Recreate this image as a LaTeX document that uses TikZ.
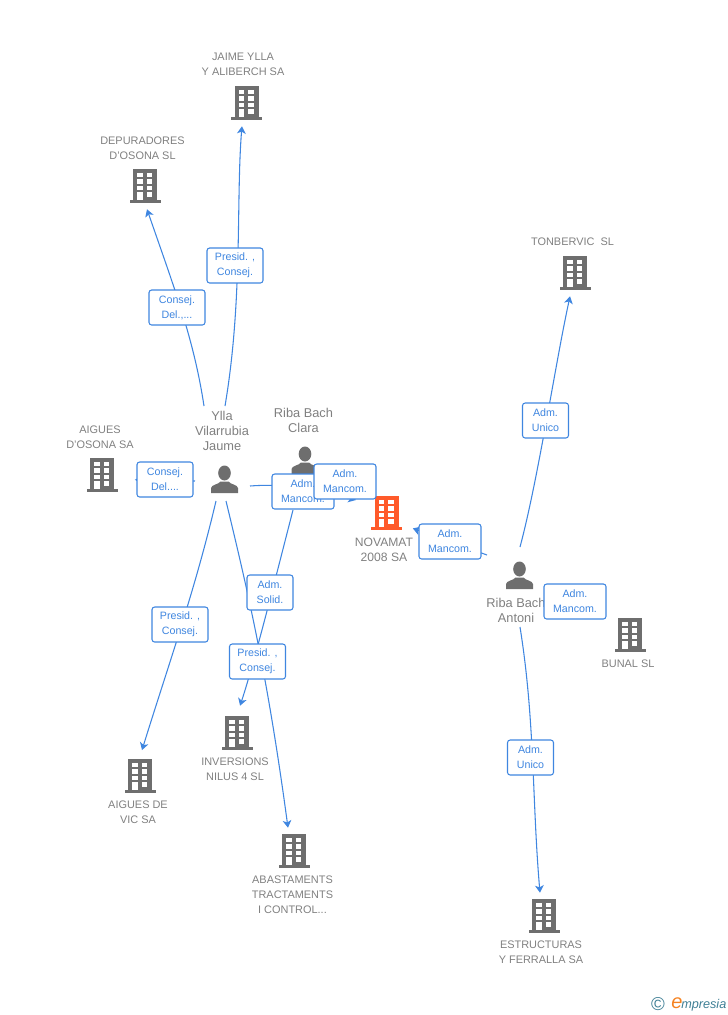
\documentclass[tikz,border=0pt]{standalone}
\usepackage{fontspec}
\setmainfont{Liberation Sans}
\usetikzlibrary{arrows.meta,backgrounds}
\definecolor{linkblue}{HTML}{3F86E0}
\definecolor{iconGray}{HTML}{6E6E6E}
\definecolor{nameGray}{HTML}{808080}
\definecolor{mainOrange}{HTML}{FF5A2A}
\definecolor{logoTeal}{HTML}{3F7F95}
\definecolor{logoOrange}{HTML}{F58220}
\tikzset{
  rel/.style={draw=linkblue,fill=white,line width=.8pt,rounded corners=2pt,text=linkblue,
    font=\fontsize{8}{11.25}\selectfont,align=center,inner sep=0pt,minimum width=#1,minimum height=26.25pt},
  firm/.style={text=nameGray,font=\fontsize{8.2}{11.25}\selectfont,align=center,inner sep=0pt},
  who/.style={text=nameGray,font=\fontsize{9.6}{11.25}\selectfont,align=center,inner sep=0pt},
  link/.style={draw=linkblue,line width=.8pt},
  linkto/.style={link,-{Stealth[length=5.5pt,width=6.5pt,inset=1.5pt]}}
}
\newcommand{\building}[4]{
  \node[minimum width=33pt,minimum height=34.5pt,inner sep=0pt] (#1) at (#2,#3) {};
  \begin{scope}[shift={(#2,#3)}]
    \fill[#4] (-12,-17) rectangle (12,14);
    \fill[#4] (-15.5,14) rectangle (15.5,17);
    \foreach \wy in {-13.5,-7,-0.5} {
      \fill[white] (-8,\wy) rectangle (-2.5,\wy+4.5);
      \fill[white] (1.5,\wy) rectangle (7,\wy+4.5);
    }
    \fill[white] (-8,6) rectangle (-2.5,14);
    \fill[white] (1.5,6) rectangle (7,10.5);
  \end{scope}
}
\newcommand{\person}[3]{
  \node[minimum size=21pt,inner sep=0pt] (#1) at (#2,#3) {};
  \begin{scope}[shift={(#2,#3)}]
    \fill[iconGray] (0,-6.5) ellipse (6.3 and 7.5);
    \fill[iconGray] (-13.5,13.5) -- (-13.5,8.5) .. controls (-13,5) and (-6,5) .. (-4,2)
      -- (4,2) .. controls (6,5) and (13,5) .. (13.5,8.5) -- (13.5,13.5) -- cycle;
  \end{scope}
}
\begin{document}
\begin{tikzpicture}[x=.75pt,y=-.75pt]
    \useasboundingbox (0,0) rectangle (728,1015);
    \building{jaime}{246.5}{103}{iconGray}
    \building{depuradores}{145}{186}{iconGray}
    \building{aiguesosona}{102}{475}{iconGray}
    \building{novamat}{386.5}{513}{mainOrange}
    \building{tonbervic}{575}{273}{iconGray}
    \building{bunal}{630}{635}{iconGray}
    \building{inversions}{237}{733}{iconGray}
    \building{aiguesvic}{140}{776}{iconGray}
    \building{abastaments}{294}{851}{iconGray}
    \building{estructuras}{544}{916}{iconGray}
    \person{ylla}{224.5}{479.5}
    \person{clara}{305}{460.5}
    \person{antoni}{519.5}{575.5}

    \node[firm] (jaimename) at (243,64.5) {JAIME YLLA\\Y ALIBERCH SA};
    \node[firm] (depuradoresname) at (142.5,148) {DEPURADORES\\D'OSONA SL};
    \node[firm] (aiguesosonaname) at (100,437) {AIGUES\\D'OSONA SA};
    \node[firm,font=\fontsize{9.1}{11.25}\selectfont] (novamatname) at (384,549.5) {NOVAMAT\\2008 SA};
    \node[firm] (tonbervicname) at (572.5,242) {TONBERVIC\ \ SL};
    \node[firm] (bunalname) at (628,664) {BUNAL SL};
    \node[firm] (inversionsname) at (235,769.5) {INVERSIONS\\NILUS 4 SL};
    \node[firm] (aiguesvicname) at (138,812.5) {AIGUES DE\\VIC SA};
    \node[firm] (abastamentsname) at (292.5,895) {ABASTAMENTS\\TRACTAMENTS\\I CONTROL...};
    \node[firm] (estructurasname) at (541,952.5) {ESTRUCTURAS\\Y FERRALLA SA};
    \node[who] (yllaname) at (222,431) {Ylla\\Vilarrubia\\Jaume};
    \node[who] (claraname) at (303.5,420) {Riba Bach\\Clara};
    \node[who] (antoniname) at (516,610) {Riba Bach\\Antoni};

    \node[rel=42pt] (presidjaime) at (235,265.5) {Presid. ,\\Consej.};
    \node[rel=42pt] (consejdepuradores) at (177,307.5) {Consej.\\Del.,...};
    \node[rel=42pt] (consejaigues) at (165,479.5) {Consej.\\Del....};
    \node[rel=46.5pt] (mancomylla) at (303,491.5) {Adm.\\Mancom.};
    \node[rel=46.5pt] (mancomclara) at (345,481.5) {Adm.\\Mancom.};
    \node[rel=46.5pt] (mancomantoni) at (450,541.5) {Adm.\\Mancom.};
    \node[rel=46.5pt] (mancombunal) at (575,601.5) {Adm.\\Mancom.};
    \node[rel=34.5pt] (solid) at (270,592.5) {Adm.\\Solid.};
    \node[rel=42pt] (presidvic) at (180,624.5) {Presid. ,\\Consej.};
    \node[rel=42pt] (presidabast) at (257.5,661.5) {Presid. ,\\Consej.};
    \node[rel=34.5pt] (unicotonbervic) at (545.5,420.5) {Adm.\\Unico};
    \node[rel=34.5pt] (unicoestructuras) at (530.5,757.5) {Adm.\\Unico};

    \coordinate (yllajaime) at (225,406);
    \coordinate (ylladepuradores) at (204,406);
    \coordinate (yllaosona) at (195,481);
    \coordinate (yllanovamat) at (250,486);
    \coordinate (yllavic) at (216,501);
    \coordinate (yllaabast) at (226,501);
    \coordinate (clarainv) at (293,510);
    \coordinate (antoninovamat) at (487,555);
    \coordinate (antonitonbervic) at (520,547);
    \coordinate (antoniestructuras) at (520,627);

    \begin{scope}[on background layer]
    \draw[linkto] (yllajaime) .. controls (243,300) and (236,200) .. ([xshift=-3.4pt]jaime.south);
    \draw[linkto] (ylladepuradores) .. controls (194,340) and (175,290) .. ([xshift=1.5pt]depuradores.south);
    \draw[linkto,shorten >=8pt] (yllaosona) -- ([yshift=-3.4pt]aiguesosona.east);
    \draw[linkto] (yllanovamat) .. controls (290,483) and (320,490) .. ([xshift=-6.4pt,yshift=9.7pt]novamat.west);
    \draw[linkto] (clara) -- ([xshift=-6.4pt,yshift=9.7pt]novamat.west);
    \draw[linkto] (yllavic) .. controls (195,590) and (170,660) .. ([xshift=1.5pt,yshift=2pt]aiguesvic.north);
    \draw[linkto] (yllaabast) .. controls (250,600) and (268,680) .. ([xshift=-4.5pt]abastaments.north);
    \draw[linkto] (clarainv) .. controls (275,580) and (255,660) .. ([xshift=2.3pt,yshift=3pt]inversions.north);
    \draw[linkto] (antoninovamat) -- ([xshift=3pt,yshift=-11.5pt]novamat.east);
    \draw[linkto] (antonitonbervic) .. controls (538,480) and (556,360) .. ([xshift=-3.7pt]tonbervic.south);
    \draw[linkto] (antoniestructuras) .. controls (535,720) and (532,800) .. ([xshift=-3pt]estructuras.north);
    \end{scope}

    % logo
    \node[text=logoTeal,inner sep=0pt,font=\fontsize{14}{14}\selectfont] (copyr) at (658,1004) {©};
    \node[text=logoOrange,inner sep=0pt,font=\fontsize{15}{15}\selectfont\itshape] (logoe) at (677,1003) {e};
    \node[text=logoTeal,inner sep=0pt,font=\fontsize{9.5}{11}\selectfont\itshape,anchor=west] (logotext) at (681,1005) {mpresia};
\end{tikzpicture}
\end{document}
